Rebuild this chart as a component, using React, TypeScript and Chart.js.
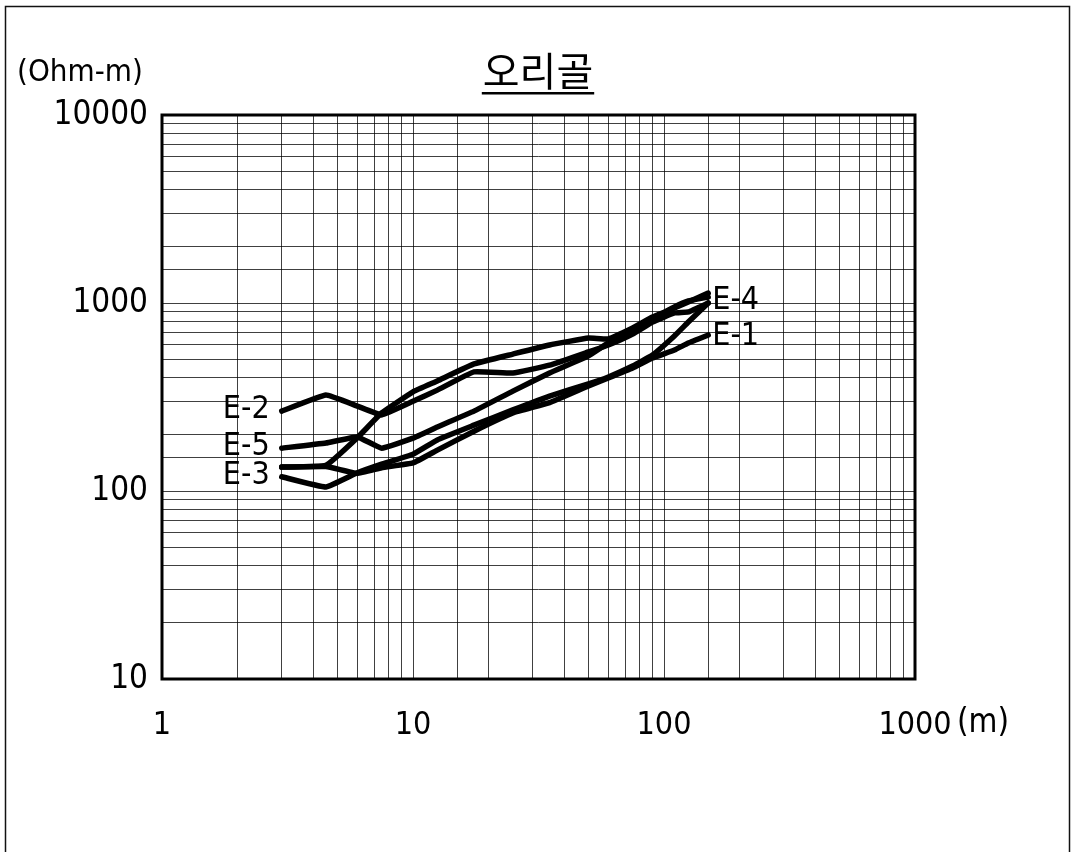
import React, { useEffect, useRef } from 'react';
import { Chart, registerables } from 'chart.js';

Chart.register(...registerables);

// AB/2 spacing (m)
const X_VALUES = [3, 4.5, 6, 7.5, 10, 12.5, 17.5, 25, 35, 50, 60, 75, 90, 110, 125, 150];

// Apparent resistivity (Ohm-m)
const E1_VALUES = [134, 135, 124, 133, 141, 165, 208, 260, 295, 362, 399, 451, 510, 562, 613, 676];
const E2_VALUES = [266, 324, 283, 254, 300, 344, 430, 424, 467, 549, 598, 684, 792, 885, 896, 1000];
const E3_VALUES = [119, 105, 125, 139, 157, 187, 224, 270, 320, 371, 404, 462, 529, 668, 792, 1000];
const E4_VALUES = [134, 137, 192, 260, 337, 385, 474, 535, 598, 651, 644, 736, 842, 940, 1012, 1130];
const E5_VALUES = [169, 180, 194, 169, 191, 219, 266, 340, 424, 523, 613, 718, 822, 952, 1025, 1076];

const SERIES_NAMES = ['E-1', 'E-2', 'E-3', 'E-4', 'E-5'];
const SERIES_VALUES = [E1_VALUES, E2_VALUES, E3_VALUES, E4_VALUES, E5_VALUES];
const LEFT_LABELED = ['E-2', 'E-5', 'E-3'];
const RIGHT_LABELED = ['E-4', 'E-1'];

const X_TICK_LABELS = [1, 10, 100, 1000];
const Y_TICK_LABELS = [10, 100, 1000, 10000];

const TITLE = '오리골';
const Y_UNIT = '(Ohm-m)';
const X_UNIT = '(m)';

const COND = '"DejaVu Sans Condensed", "DejaVu Sans", sans-serif';
const LABEL_FONT = `32px ${COND}`;

function tickCallback(list: number[]) {
  return (v: any) => {
    const n = Number(v);
    const hit = list.find((t) => Math.abs(t - n) < 1e-6 * t);
    return hit !== undefined ? String(hit) : '';
  };
}

const decorPlugin = {
  id: 'decor',
  afterDraw(chart: any) {
    const { ctx, chartArea } = chart;
    const xs = chart.scales.x;
    const ys = chart.scales.y;
    ctx.save();
    // outer frame
    ctx.strokeStyle = '#111';
    ctx.lineWidth = 1.5;
    ctx.strokeRect(5.5, 6.5, 1064, 900);
    // plot border
    ctx.lineWidth = 3;
    ctx.strokeStyle = '#000';
    ctx.strokeRect(chartArea.left, chartArea.top, chartArea.right - chartArea.left, chartArea.bottom - chartArea.top);

    ctx.fillStyle = '#000';
    // title
    ctx.font = '40px "Noto Sans CJK KR", sans-serif';
    ctx.textAlign = 'center';
    ctx.textBaseline = 'middle';
    const tx = 538;
    ctx.fillText(TITLE, tx, 71);
    const tw = ctx.measureText(TITLE).width;
    ctx.fillRect(tx - tw / 2 - 1, 92, tw + 2, 2.5);

    // y unit
    ctx.font = `31px ${COND}`;
    ctx.textAlign = 'left';
    ctx.fillText(Y_UNIT, 17, 73);

    // x unit
    ctx.font = `33px ${COND}`;
    ctx.fillText(X_UNIT, xs.getPixelForValue(1000) + 42, 723);

    // series labels
    ctx.font = LABEL_FONT;
    chart.data.datasets.forEach((ds: any) => {
      const pts = ds.data;
      if (LEFT_LABELED.includes(ds.label)) {
        const p = pts[0];
        ctx.textAlign = 'right';
        ctx.fillText(ds.label, xs.getPixelForValue(p.x) - 12, ys.getPixelForValue(p.y) - 1);
      }
      if (RIGHT_LABELED.includes(ds.label)) {
        const p = pts[pts.length - 1];
        ctx.textAlign = 'left';
        const dy = ds.label === 'E-4' ? 8 : 2;
        ctx.fillText(ds.label, xs.getPixelForValue(p.x) + 4, ys.getPixelForValue(p.y) + dy);
      }
    });
    ctx.restore();
  },
};

export default function App() {
  const ref = useRef<HTMLCanvasElement | null>(null);

  useEffect(() => {
    if (!ref.current) return;
    const datasets = SERIES_NAMES.map((name, i) => ({
      label: name,
      data: X_VALUES.map((x, j) => ({ x, y: SERIES_VALUES[i][j] })),
      borderColor: '#000',
      borderWidth: 5.5,
      pointRadius: 0,
      tension: 0.1,
      borderCapStyle: 'round',
      borderJoinStyle: 'round',
      fill: false,
    }));
    const gridColor = 'rgba(0,0,0,0.75)';
    const chart = new Chart(ref.current, {
      type: 'line',
      data: { datasets } as any,
      options: {
        animation: false,
        responsive: false,
        devicePixelRatio: 1,
        layout: { padding: { left: 0, top: 115, right: 160, bottom: 0 } },
        plugins: {
          legend: { display: false },
          tooltip: { enabled: false },
          title: { display: false },
        },
        scales: {
          x: {
            type: 'logarithmic',
            min: 1,
            max: 1000,
            border: { display: false },
            grid: { color: gridColor, lineWidth: 1, drawTicks: false },
            ticks: {
              autoSkip: false,
              maxRotation: 0,
              minRotation: 0,
              padding: 27,
              color: '#000',
              font: { family: COND, size: 32 },
              callback: tickCallback(X_TICK_LABELS),
            },
            afterFit: (s: any) => {
              s.height = 173;
            },
          },
          y: {
            type: 'logarithmic',
            min: 10,
            max: 10000,
            border: { display: false },
            grid: { color: gridColor, lineWidth: 1, drawTicks: false },
            ticks: {
              autoSkip: false,
              padding: 14,
              color: '#000',
              font: { family: COND, size: 33 },
              callback: tickCallback(Y_TICK_LABELS),
            },
            afterFit: (s: any) => {
              s.width = 162;
            },
          },
        },
      } as any,
      plugins: [decorPlugin],
    });
    return () => chart.destroy();
  }, []);

  return (
    <div style={{ position: 'fixed', left: 0, top: 0, width: 1075, height: 852, overflow: 'hidden', background: '#fff' }}>
      <canvas ref={ref} width={1075} height={852} style={{ display: 'block', width: 1075, height: 852 }} />
    </div>
  );
}
